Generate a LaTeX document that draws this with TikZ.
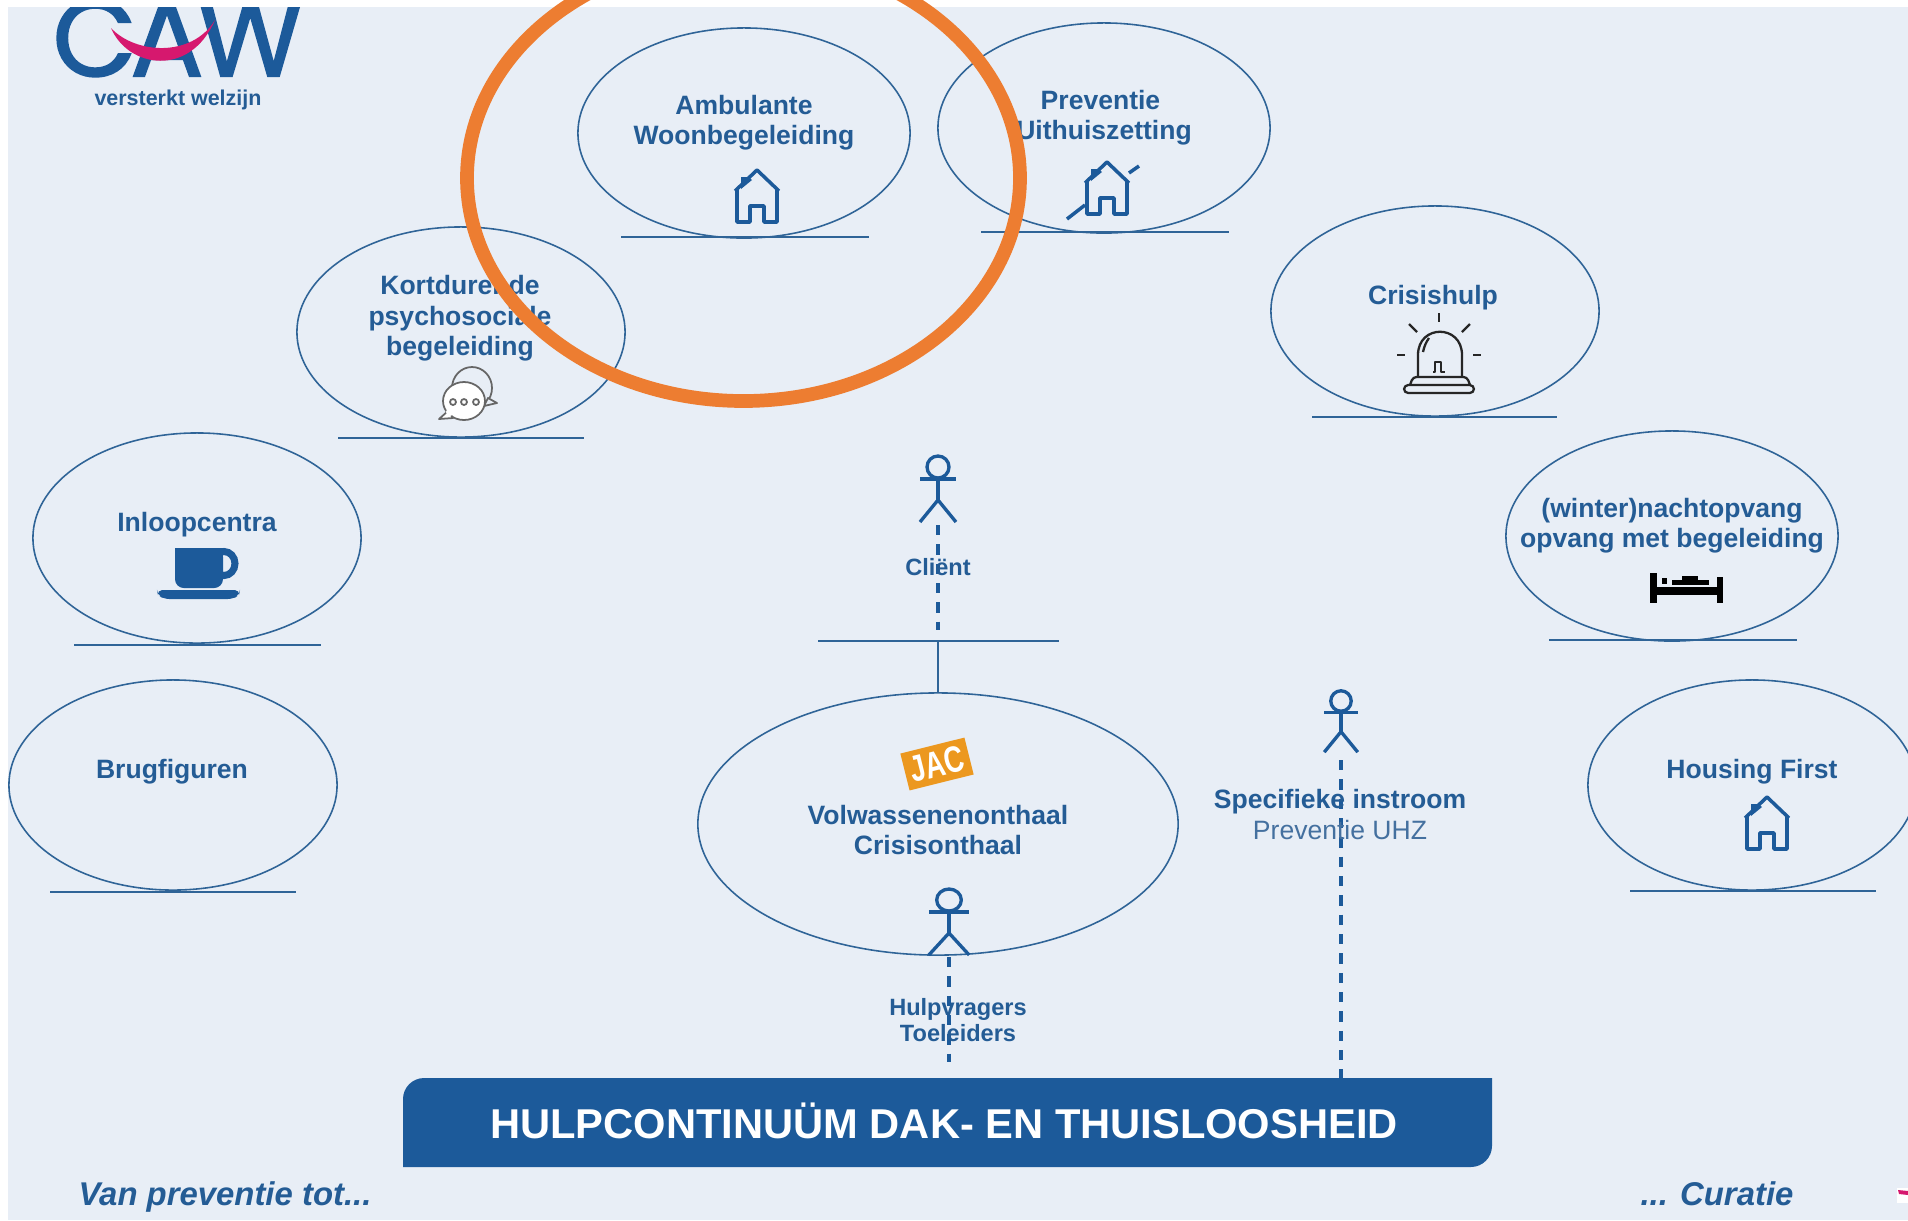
\documentclass[tikz,border=0pt]{standalone}
\usepackage{fontspec}
\usepackage{tikz}
\usetikzlibrary{shapes.geometric}
\setmainfont{Liberation Sans}
\newfontfamily\logofont[LetterSpace=-6,FakeBold=1.6]{Poppins}

\definecolor{pagebg}{HTML}{E8EEF6}
\definecolor{cawblue}{HTML}{1C5A9A}
\definecolor{txtblue}{HTML}{245C95}
\definecolor{linblue}{HTML}{2F6497}
\definecolor{softblue}{HTML}{44709F}
\definecolor{cawpink}{HTML}{D6186E}
\definecolor{ringorange}{HTML}{ED7D31}
\definecolor{jacorange}{HTML}{EC981F}

\tikzset{
  bubble/.style={ellipse, draw=linblue, line width=.45pt, inner sep=0pt, minimum width=3.28cm, minimum height=2.1cm},
  lbl/.style={text=txtblue, align=center, inner sep=0pt, font=\fontsize{7.55}{8.7}\selectfont\bfseries},
  smalllbl/.style={text=txtblue, align=center, inner sep=0pt, font=\fontsize{6.7}{7.3}\selectfont\bfseries},
  corner/.style={text=txtblue, inner sep=0pt, font=\fontsize{9.35}{11}\selectfont\bfseries\itshape},
  ground/.style={draw=linblue, line width=.55pt},
  walk/.style={draw=cawblue, line width=.95pt, dash pattern=on 2.9pt off 2.6pt},
  icon/.style={draw=cawblue, line width=1pt, line join=round},
  stick/.style={draw=cawblue, line width=.95pt, line join=round},
  siren/.style={draw=black!85, line width=.65pt, line join=round},
  chat/.style={draw=black!60, line width=.5pt, line join=round},
  housepic/.pic={
    \draw[icon] (-22,21) -- (0,0) -- (22,21);
    \draw[icon] (-20,20) -- (-20,52) -- (-7,52) -- (-7,36) -- (7,36) -- (7,52) -- (20,52) -- (20,20);
    \fill[cawblue] (-16,19) -- (-16,7) -- (-8,7) -- (-5,10) -- cycle;
  },
  stickpic/.pic={
    \draw[stick] (0,0) circle [radius=11];
    \draw[stick] (0,11) -- (0,33);
    \draw[stick] (-18,12) -- (18,12);
    \draw[stick] (-18,55) -- (0,33) -- (18,55);
  }
}

\begin{document}
\begin{tikzpicture}[x=0.01cm, y=-0.01cm]
\useasboundingbox (0,0) rectangle (1908,1220);
\clip (0,0) rectangle (1908,1220);
\fill[pagebg] (8,0) rectangle (1908,1220);

% logo
\node[text=cawblue, inner sep=0pt, font=\logofont\fontsize{31}{31}\selectfont] (caw) at (178,38) {CAW};
\fill[cawpink] (111,28) .. controls (128,68) and (190,78) .. (215,20) .. controls (192,58) and (135,54) .. (111,28) -- cycle;
\node[text=txtblue, inner sep=0pt, font=\fontsize{6.1}{7}\selectfont\bfseries] (welzijn) at (178,100) {versterkt welzijn};
\fill[white] (0,0) rectangle (1908,7);
\fill[white] (0,0) rectangle (8,1220);

\node[bubble, minimum width=3.32cm] (amb) at (744,133) {};
\node[bubble, minimum width=3.32cm] (prev) at (1104,128) {};
\node[bubble] (kort) at (461,332) {};
\node[bubble] (cris) at (1435,311) {};
\node[bubble] (inl) at (197,538) {};
\node[bubble, minimum width=3.32cm] (nacht) at (1672,536) {};
\node[bubble] (brug) at (173,785) {};
\node[bubble] (hous) at (1752,785) {};
\node[bubble, minimum width=4.8cm, minimum height=2.62cm] (vol) at (938,824) {};

\node[lbl] (amblbl) at (744,122.5) {Ambulante\\Woonbegeleiding};
\node[lbl] (prevlbl) at (1104,117.5) {Preventie\hspace*{2pt}\\Uithuiszetting};
\node[lbl] (kortlbl) at (460,318.5) {Kortdurende\\psychosociale\\begeleiding};
\node[lbl] (crislbl) at (1433,297.5) {Crisishulp};
\node[lbl] (inllbl) at (197,524.5) {Inloopcentra};
\node[lbl] (nachtlbl) at (1672,525.5) {(winter)nachtopvang\\opvang met begeleiding};
\node[lbl] (bruglbl) at (172,771.5) {Brugfiguren};
\node[lbl] (houslbl) at (1752,771.5) {Housing First};
\node[lbl] (vollbl) at (938,830) {Volwassenenonthaal\\Crisisonthaal};

% lijnen onder de ellipsen
\coordinate (amba) at (621,237); \coordinate (ambb) at (869,237);
\coordinate (preva) at (981,232); \coordinate (prevb) at (1229,232);
\coordinate (korta) at (338,438); \coordinate (kortb) at (584,438);
\coordinate (crisa) at (1312,417); \coordinate (crisb) at (1557,417);
\coordinate (inla) at (74,645); \coordinate (inlb) at (321,645);
\coordinate (nachta) at (1549,640); \coordinate (nachtb) at (1797,640);
\coordinate (bruga) at (50,892); \coordinate (brugb) at (296,892);
\coordinate (housa) at (1630,891); \coordinate (housb) at (1876,891);
\coordinate (hulpa) at (818,641); \coordinate (hulpb) at (1059,641);
\coordinate (hulpm) at (938,641);

\draw[ground] (amba) -- (ambb);
\draw[ground] (preva) -- (prevb);
\draw[ground] (korta) -- (kortb);
\draw[ground] (crisa) -- (crisb);
\draw[ground] (inla) -- (inlb);
\draw[ground] (nachta) -- (nachtb);
\draw[ground] (bruga) -- (brugb);
\draw[ground] (housa) -- (housb);
\draw[ground] (hulpa) -- (hulpb);
\draw[ground] (hulpm) -- (vol.north);

% huisjes
\pic at (757,170) {housepic};
\pic at (1107,162) {housepic};
\pic at (1767,797) {housepic};
\draw[icon] (1067,219) -- (1085,205);
\draw[icon] (1129,173) -- (1139,166);

% tas koffie
\draw[cawblue, line width=2pt] (224,563.5) ellipse [x radius=11, y radius=12];
\fill[cawblue, rounded corners=2.5pt] (175,548) -- (223,548) -- (223,588) -- (175,588) -- cycle;
\fill[cawblue] (175,548) rectangle (223,560);
\fill[cawblue, rounded corners=1.5pt] (157,590) -- (240,590) -- (239,595) -- (233,599) -- (164,599) -- (158,595) -- cycle;

% zwaailicht
\draw[siren] (1418,377) -- (1418,355) .. controls (1418,324) and (1462,324) .. (1462,355) -- (1462,377);
\draw[siren] (1429,338) .. controls (1426,342) and (1424,347) .. (1423,352);
\draw[siren, rounded corners=1pt] (1410,385) -- (1413,377) -- (1467,377) -- (1470,385);
\draw[siren, rounded corners=1.2pt] (1404,385) rectangle (1474,393);
\draw[siren, line width=.8pt] (1433,372) -- (1435,372) -- (1435,362) -- (1441,362) -- (1441,372) -- (1445,372);
\draw[siren] (1439,313) -- (1439,322);
\draw[siren] (1409,324) -- (1417,332);
\draw[siren] (1470,324) -- (1462,332);
\draw[siren] (1397,355) -- (1405,355);
\draw[siren] (1473,355) -- (1481,355);

% bed
\fill[black] (1650,573) rectangle (1657,603);
\fill[black] (1717,577) rectangle (1723,603);
\fill[black] (1657,587) rectangle (1717,595);
\fill[black] (1672,580) rectangle (1709,585);
\fill[black] (1682,576) rectangle (1698,580);
\fill[black] (1662,578) rectangle (1667,584);

% spraakwolkjes
\draw[chat, fill=pagebg] (472,388) ellipse [x radius=20, y radius=21];
\draw[chat, fill=pagebg] (488,398) -- (497,403) -- (484,406) -- cycle;
\draw[chat, fill=white] (464,401) ellipse [x radius=21, y radius=19];
\draw[chat, fill=white] (448,411) -- (439,419) -- (453,418) -- cycle;
\fill[white] (450,412) circle [radius=4];
\draw[chat] (453,402) circle [radius=3];
\draw[chat] (464,402) circle [radius=3];
\draw[chat] (476,402) circle [radius=3];

\node[fill=jacorange, text=white, rotate=14, inner sep=0pt, minimum width=.66cm, minimum height=.38cm, font=\fontsize{10.5}{10.5}\selectfont\bfseries] (jac) at (937,764) {\scalebox{.74}[1]{JAC}};

% instroom
\pic at (938,467) {stickpic};
\pic[xscale=1.12] at (949,900) {stickpic};
\pic[scale=.93] at (1341,701) {stickpic};

\coordinate (clienta) at (938,525); \coordinate (clientb) at (938,630);
\coordinate (vraaga) at (949,957); \coordinate (vraagb) at (949,1062);
\coordinate (speca) at (1341,760); \coordinate (specb) at (1341,1078);
\draw[walk] (clienta) -- (clientb);
\draw[walk] (vraaga) -- (vraagb);
\draw[walk] (speca) -- (specb);

\node[smalllbl] (client) at (938,567) {Cliënt};
\node[smalllbl] (vragers) at (958,1020) {Hulpvragers\\Toeleiders};
\node[lbl] (spec) at (1340,801.5) {Specifieke instroom};
\node[text=softblue, inner sep=0pt, font=\fontsize{7.55}{8.7}\selectfont] (uhz) at (1340,830) {Preventie UHZ};

% balk
\fill[cawblue] (403,1167) [rounded corners=6pt] -- (403,1078) [sharp corners] -- (1492,1078) [rounded corners=6pt] -- (1492,1167) [sharp corners] -- cycle;
\node[text=white, inner sep=0pt, font=\fontsize{11.85}{14}\selectfont\bfseries] (bar) at (944,1120.5) {HULPCONTINUÜM DAK- EN THUISLOOSHEID};

\node[corner] (van) at (225,1196.5) {Van preventie tot...};
\node[corner] (cur) at (1717,1194) {... Curatie};

\fill[white] (1897,1188) rectangle (1908,1203);
\fill[cawpink] (1898,1190) -- (1908,1191) -- (1908,1195) -- (1899,1194) -- cycle;

\draw[ringorange, line width=3.9pt] (743.5,178) ellipse [x radius=276.5, y radius=223];
\end{tikzpicture}
\end{document}
